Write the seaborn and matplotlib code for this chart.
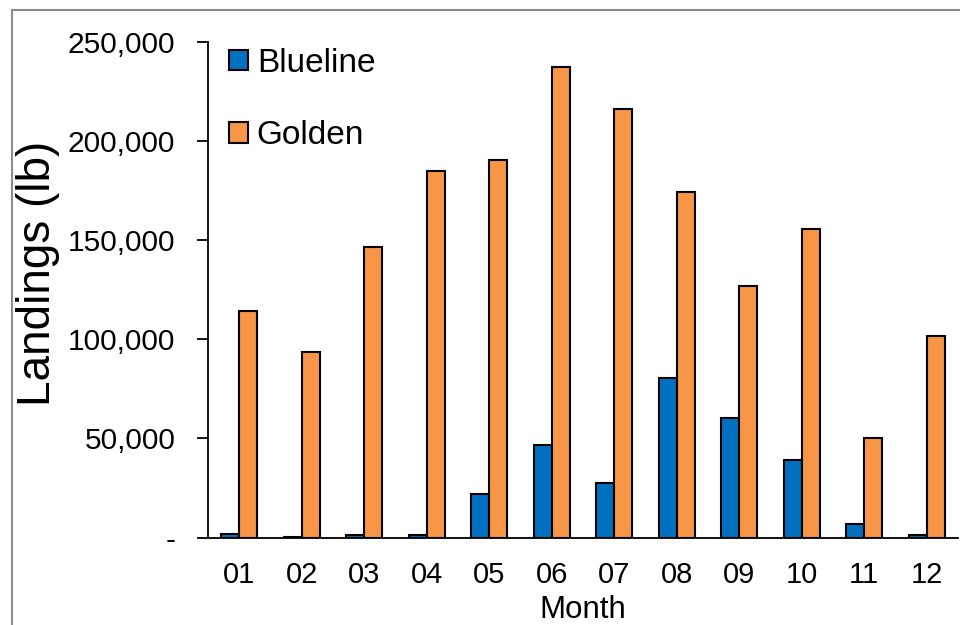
import numpy as np
import pandas as pd
import matplotlib
matplotlib.use("Agg")
import matplotlib.pyplot as plt
from matplotlib.ticker import FuncFormatter, FixedLocator
from matplotlib.patches import Rectangle
import seaborn as sns

months = ["01", "02", "03", "04", "05", "06", "07", "08", "09", "10", "11", "12"]
blueline = [1800, 500, 1200, 1500, 21900, 46700, 27400, 80600, 60500, 39100, 7000, 1200]
golden = [114400, 93800, 146700, 185000, 190500, 237400, 216200, 174400, 127000, 155700, 50400, 101800]
species = ["Blueline", "Golden"]
colors = ["#0070C0", "#F79646"]

df = pd.DataFrame({
    "Month": months * 2,
    "Species": [species[0]] * len(months) + [species[1]] * len(months),
    "Landings": blueline + golden,
})

sns.set_theme(style="white")
plt.rcParams["font.family"] = ["Liberation Sans", "DejaVu Sans"]
plt.rcParams.update({"text.color": "black", "axes.labelcolor": "black",
                     "xtick.color": "black", "ytick.color": "black"})

fig = plt.figure(figsize=(9.6, 6.25), dpi=100)
ax = fig.add_axes([208 / 960, 1 - 537.5 / 625, 750 / 960, 495.2 / 625])

sns.barplot(data=df, x="Month", y="Landings", hue="Species", order=months,
            hue_order=species, palette=colors, width=0.58, gap=0,
            edgecolor="black", linewidth=1.5, saturation=1, ax=ax)

ax.set_ylim(0, 250000)
ax.set_xlim(-0.5, len(months) - 0.5)
ax.set_yticks(np.arange(0, 250001, 50000))
ax.yaxis.set_major_formatter(FuncFormatter(lambda v, _: "-" if v == 0 else f"{int(v):,}"))

# month labels centred, tick marks on category boundaries
ax.tick_params(axis="x", which="major", length=0, pad=17, labelsize=21)
ax.xaxis.set_minor_locator(FixedLocator(np.arange(-0.5, len(months), 1.0)))
ax.tick_params(axis="x", which="minor", direction="out", length=8, width=1.3)
ax.tick_params(axis="y", direction="out", length=8, width=1.3,
               labelsize=21.5, pad=15.5, left=True)

for side in ["top", "right"]:
    ax.spines[side].set_visible(False)
for side in ["left", "bottom"]:
    ax.spines[side].set_color("black")
    ax.spines[side].set_linewidth(1.3)

ax.set_xlabel("Month", fontsize=22.5, labelpad=4.5)
ax.set_ylabel("Landings (lb)", fontsize=33)
ax.yaxis.set_label_coords(-0.1973, 0.533)

leg = ax.legend(loc="upper left", bbox_to_anchor=(0.01, 1.016), frameon=False,
                fontsize=24, handlelength=0.57, handleheight=0.57,
                handletextpad=0.27, labelspacing=1.24, borderaxespad=0)
for h in leg.legend_handles:
    h.set_edgecolor("black")
    h.set_linewidth(1.5)

# outer chart frame
fig.patches.append(Rectangle((12 / 960, -0.1), 1.2, 1 - 10 / 625 + 0.1,
                             transform=fig.transFigure, fill=False,
                             edgecolor="#8c8c8c", linewidth=1.5))

fig.savefig("out.png", dpi=100)
